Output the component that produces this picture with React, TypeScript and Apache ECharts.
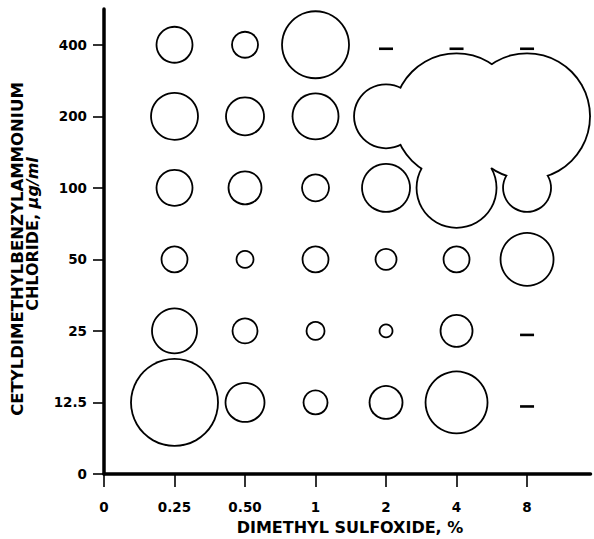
import React, { useEffect, useRef } from "react";
import * as echarts from "echarts";

// Dimethyl sulfoxide concentrations (%) — x categories
const xLabels = ["0", "0.25", "0.50", "1", "2", "4", "8"];
// Cetyldimethylbenzylammonium chloride (µg/ml) — y categories
const yLabels = ["0", "12.5", "25", "50", "100", "200", "400"];

// Zone diameters per concentration row (columns: 0.25, 0.50, 1, 2, 4, 8); null = "—"
const row12_5 = [87, 39, 24, 33, 62, null];
const row25 = [45, 25, 18, 13, 32, null];
const row50 = [26, 17, 26, 21, 26, 53];
const row100 = [36, 33, 27, 48, 80, 48];
const row200 = [47, 38, 46, 64, 126, 126];
const row400 = [36, 26, 67, null, null, null];

const rows = [row12_5, row25, row50, row100, row200, row400];

const STROKE = 1.8;
const FONT = '"DejaVu Sans", sans-serif';

export default function App() {
  const ref = useRef<HTMLDivElement>(null);

  useEffect(() => {
    if (!ref.current) return;
    const chart = echarts.init(ref.current, null, { renderer: "svg" });

    const circles: [number, number, number][] = [];
    const dashes: [number, number][] = [];
    rows.forEach((row, yi) => {
      row.forEach((d, xi) => {
        if (d == null) dashes.push([xi + 1, yi + 1]);
        else circles.push([xi + 1, yi + 1, d]);
      });
    });

    const ticks = [0, 1, 2, 3, 4, 5, 6];

    chart.setOption({
      animation: false,
      backgroundColor: "#fff",
      grid: {
        left: 104,
        right: 3.5,
        top: 9,
        bottom: 65,
        containLabel: false,
        outerBoundsMode: "none",
      },
      xAxis: {
        type: "value",
        min: 0,
        max: 6.9,
        interval: 1,
        splitLine: { show: false },
        axisLine: { show: true, lineStyle: { color: "#000", width: 3.5 } },
        axisTick: {
          show: true,
          length: 13,
          lineStyle: { color: "#000", width: 1.6 },
          customValues: ticks,
        },
        axisLabel: {
          margin: 26,
          color: "#000",
          fontFamily: FONT,
          fontWeight: "bold",
          fontSize: 13.5,
          customValues: ticks,
          formatter: (v: number) => xLabels[Math.round(v)] ?? "",
        },
      },
      yAxis: {
        type: "value",
        min: 0,
        max: 6.5,
        interval: 1,
        splitLine: { show: false },
        axisLine: { show: true, lineStyle: { color: "#000", width: 3.5 } },
        axisTick: {
          show: true,
          length: 11,
          lineStyle: { color: "#000", width: 1.6 },
          customValues: ticks,
        },
        axisLabel: {
          margin: 17,
          color: "#000",
          fontFamily: FONT,
          fontWeight: "bold",
          fontSize: 13.5,
          customValues: ticks,
          formatter: (v: number) => yLabels[Math.round(v)] ?? "",
        },
      },
      series: [
        {
          type: "scatter",
          silent: true,
          z: 1,
          symbol: "circle",
          symbolSize: (val: number[]) => val[2] + STROKE,
          itemStyle: { color: "#000", opacity: 1 },
          emphasis: { disabled: true },
          data: circles,
        },
        {
          type: "scatter",
          silent: true,
          z: 2,
          symbol: "circle",
          symbolSize: (val: number[]) => val[2] - STROKE,
          itemStyle: { color: "#fff", opacity: 1 },
          emphasis: { disabled: true },
          data: circles,
        },
        {
          type: "scatter",
          silent: true,
          z: 3,
          symbol: "rect",
          symbolSize: [14, 2.6],
          symbolOffset: [0, 4],
          itemStyle: { color: "#000", opacity: 1 },
          emphasis: { disabled: true },
          data: dashes,
        },
      ],
      graphic: [
        {
          type: "text",
          x: 350,
          y: 527.5,
          style: {
            text: "DIMETHYL SULFOXIDE, %",
            fontFamily: FONT,
            fontWeight: "bold",
            fontSize: 16,
            fill: "#000",
            align: "center",
            verticalAlign: "middle",
          },
        },
        {
          type: "text",
          x: 17.5,
          y: 249,
          rotation: Math.PI / 2,
          style: {
            text: "CETYLDIMETHYLBENZYLAMMONIUM",
            fontFamily: FONT,
            fontWeight: "bold",
            fontSize: 16.5,
            fill: "#000",
            align: "center",
            verticalAlign: "middle",
          },
        },
        {
          type: "text",
          x: 32.5,
          y: 234,
          rotation: Math.PI / 2,
          style: {
            text: "CHLORIDE, {i|μg/ml}",
            fontFamily: FONT,
            fontWeight: "bold",
            fontSize: 16,
            fill: "#000",
            align: "center",
            verticalAlign: "middle",
            rich: {
              i: {
                fontFamily: FONT,
                fontWeight: "bold",
                fontStyle: "italic",
                fontSize: 16,
                fill: "#000",
              },
            },
          },
        },
      ],
    });

    return () => chart.dispose();
  }, []);

  return (
    <div
      ref={ref}
      style={{ position: "fixed", left: 0, top: 0, width: 594, height: 539 }}
    />
  );
}
